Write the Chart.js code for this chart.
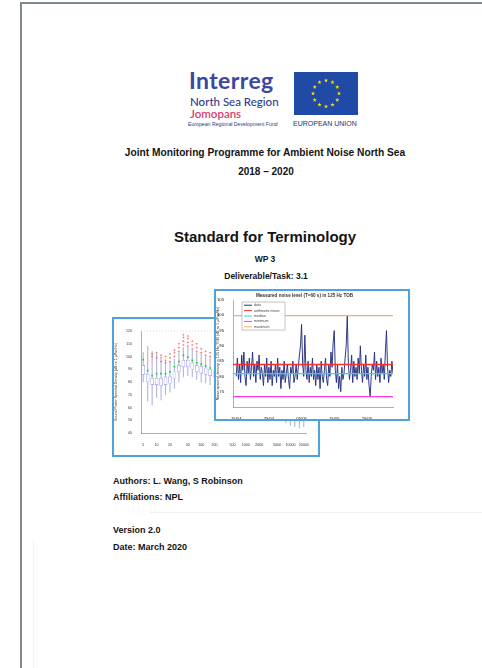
<!DOCTYPE html>
<html>
<head>
<meta charset="utf-8">
<script src="https://cdn.jsdelivr.net/npm/chart.js@4.4.1/dist/chart.umd.min.js"></script>
<style>
html, body { margin: 0; padding: 0; background: #fff; }
body { width: 482px; height: 668px; position: relative; overflow: hidden; font-family: "Liberation Sans", Arial, sans-serif; color: #141414; }
.abs { position: absolute; white-space: nowrap; line-height: 1; }
.mid { transform: translateX(-50%); }
.b { font-weight: bold; }
#frame { position: absolute; left: 20px; top: 2px; width: 520px; height: 700px; border-top: 2px solid #808891; border-left: 2px solid #808891; }
.box { position: absolute; box-sizing: border-box; border: 2px solid #4ea3dc; background: #fff; }
.box > div { position: relative; width: 100%; height: 100%; }
</style>
</head>
<body>
<div id="frame"></div>
<div class="abs" style="left:33px;top:540px;width:1px;height:130px;background:#f1f3f5"></div>
<div class="abs" style="left:150px;top:512px;width:340px;height:1px;background:#eef0f2"></div>

<!-- logo block -->
<div class="abs" style="left:189px;top:66px;font:700 23px Lato, sans-serif;color:#3d47a0;letter-spacing:0.4px">Interreg</div>
<div class="abs" style="left:190px;top:95px;font:500 11.5px Lato, sans-serif;color:#2c3b8a">North Sea Region</div>
<div class="abs" style="left:190px;top:107px;font:600 11.5px Lato, sans-serif;color:#d8406d">Jomopans</div>
<div class="abs" style="left:188px;top:121px;font:400 5.2px 'Liberation Sans', sans-serif;color:#2c3b8a">European Regional Development Fund</div>
<svg class="abs" id="flag" style="left:294px;top:72px" width="64" height="43"></svg>
<div class="abs" style="left:293px;top:120px;font:400 7px 'Liberation Sans', sans-serif;color:#1f2f70">EUROPEAN UNION</div>

<!-- titles -->
<div class="abs mid b" style="left:265px;top:148px;font-size:10.2px">Joint Monitoring Programme for Ambient Noise North Sea</div>
<div class="abs mid b" style="left:266px;top:167px;font-size:10px">2018 – 2020</div>
<div class="abs mid b" style="left:265px;top:228.5px;font-size:15px">Standard for Terminology</div>
<div class="abs mid b" style="left:265px;top:254.5px;font-size:8.5px">WP 3</div>
<div class="abs mid b" style="left:266px;top:271.5px;font-size:8.5px">Deliverable/Task: 3.1</div>

<!-- charts -->
<div class="box" style="left:112px;top:317px;width:208px;height:140px;z-index:1"><div><canvas id="boxChart"></canvas></div></div>
<div class="box" style="left:214px;top:289px;width:196px;height:132px;z-index:2"><div><canvas id="lineChart"></canvas></div></div>

<!-- footer text -->
<div class="abs b" style="left:113px;top:476.5px;font-size:9px">Authors: L. Wang, S Robinson</div>
<div class="abs b" style="left:113px;top:492.5px;font-size:9px">Affiliations: NPL</div>
<div class="abs b" style="left:113px;top:525.5px;font-size:9px">Version 2.0</div>
<div class="abs b" style="left:113px;top:542.5px;font-size:9px">Date: March 2020</div>

<script>
// time series (right chart), 3 samples per day starting 15/04
const dayTicks = ['15/04', '25/04', '05/05', '15/05', '25/05'];
const tickDays = [0, 10, 20, 30, 40];
const noiseLevel = [
  80, 86, 79, 84, 78, 87, 82, 88, 80, 77, 85, 81, 86, 79, 83, 88, 80, 84,
  78, 85, 82, 87, 79, 83, 81, 77, 84, 80, 86, 78, 83, 79, 85, 77, 82, 80,
  84, 78, 86, 80, 83, 76, 82, 79, 85, 78, 81, 84, 79, 76, 83, 81, 85, 78,
  80, 84, 79, 83, 87, 90, 97, 84, 80, 93.5, 82, 79, 85, 78, 83, 80, 86, 79,
  82, 77, 84, 79, 83, 76, 85, 80, 78, 82, 86, 79, 77, 84, 80, 88, 83, 91,
  95, 82, 78, 84, 76, 80, 75, 83, 79, 81, 86, 90, 100, 84, 79, 82, 87, 78,
  85, 80, 83, 79, 86, 81, 90, 82, 78, 84, 80, 87, 79, 83, 77, 73.5, 80, 84,
  82, 88, 79, 85, 80, 83, 78, 86, 81, 84, 79, 88, 95, 83, 78, 82, 80, 85,
  81
];
const meanLevel = 83.9;
const medianLevel = 80.9;
const minLevel = 73.4;
const maxLevel = 99.9;
const seriesNames = ['data', 'arithmetic mean', 'median', 'minimum', 'maximum'];
const seriesColors = ['#25307f', '#ff2e2e', '#1fd9ef', '#ff3cf5', '#f2ae6c'];

// box plot per 1/3 octave band (left chart)
const bands = ['5', '6.3', '8', '10', '12.5', '16', '20', '25', '31.5', '40', '50', '63', '80', '100',
  '125', '160', '200', '250', '315', '400', '500', '630', '800', '1000', '1250', '1600', '2000',
  '2500', '3150', '4000', '5000', '6300', '8000', '10000', '12500', '16000', '20000'];
const bandTicks = ['5', '10', '20', '50', '100', '200', '500', '1000', '2000', '5000', '10000', '20000'];
const bandMean = [97.5, 89, 85, 86.5, 86.5, 86.5, 88, 92, 96, 101, 99.5, 97, 95, 94, 92.5, 91, 89,
  88, 86, 86.5, 84, 83, 83.5, 81, 80, 80.5, 78, 77, 77.5, 75, 74, 74.5, 72, 71, 71.5, 69, 68];
const boxLow = [86, 80, 78, 78, 77, 78, 79, 83, 88, 92, 92, 90, 88, 87, 86, 85, 84,
  83, 81, 81, 79, 78, 78, 76, 75, 75, 73, 72, 72, 70, 69, 69, 67, 66, 66, 64, 63];
const boxHigh = [93, 86, 83, 83, 83, 84, 84, 88, 93, 97, 97, 95, 93, 92, 91, 90, 88,
  87, 85, 86, 83, 82, 83, 80, 79, 80, 77, 76, 77, 74, 73, 74, 71, 70, 71, 68, 67];
const whiskLow = [80, 65, 62, 68, 66, 70, 72, 75, 80, 84, 85, 84, 82, 80, 79, 78, 77,
  75, 73, 72, 69, 68, 66, 63, 62, 59, 58, 56, 54, 53, 51, 50, 48, 46, 45, 44, 45];
const whiskHigh = [103, 108, 104, 102, 98, 96, 96, 98, 103, 107, 107, 105, 103, 102, 100, 99, 98,
  97, 95, 95, 93, 92, 93, 90, 89, 89, 87, 86, 86, 84, 83, 83, 81, 80, 80, 78, 77];
const outliers = [[], [], [100, 102], [99, 103], [96, 99, 101], [95, 97, 100], [96, 99, 102],
  [100, 103, 105], [104, 107, 110], [109, 112, 115, 117], [108, 111, 114, 116], [106, 109, 112],
  [104, 107, 110], [103, 106], [101, 104], [100, 103], [99, 101]];

// flag stars (decoration)
const flag = document.getElementById('flag');
let svg = '<rect width="64" height="43" fill="#1f4aa6"/>';
for (let k = 0; k < 12; k++) {
  const a = k * Math.PI / 6;
  const cx = 32 + 13 * Math.cos(a), cy = 21.5 + 13 * Math.sin(a);
  let pts = [];
  for (let j = 0; j < 10; j++) {
    const r = j % 2 ? 0.9 : 2.2, t = -Math.PI / 2 + j * Math.PI / 5;
    pts.push((cx + r * Math.cos(t)).toFixed(2) + ',' + (cy + r * Math.sin(t)).toFixed(2));
  }
  svg += '<polygon fill="#ffdd00" points="' + pts.join(' ') + '"/>';
}
flag.innerHTML = svg;

// legend drawn inside plot area
const innerLegend = {
  id: 'innerLegend',
  afterDatasetsDraw(chart, args, opts) {
    const {ctx, chartArea} = chart;
    const x = chartArea.left + opts.dx, y = chartArea.top + opts.dy;
    ctx.save();
    ctx.fillStyle = '#fff';
    ctx.strokeStyle = '#8a8a8a';
    ctx.lineWidth = 0.5;
    ctx.fillRect(x, y, opts.w, opts.h);
    ctx.strokeRect(x, y, opts.w, opts.h);
    ctx.font = '3.6px "Liberation Sans"';
    ctx.textBaseline = 'middle';
    chart.data.datasets.forEach((ds, i) => {
      const ly = y + 3.2 + i * 5.4;
      ctx.strokeStyle = ds.borderColor;
      ctx.lineWidth = 1;
      ctx.beginPath(); ctx.moveTo(x + 2, ly); ctx.lineTo(x + 10, ly); ctx.stroke();
      ctx.fillStyle = '#444';
      ctx.fillText(ds.label, x + 12, ly);
    });
    ctx.restore();
  }
};

const plotFrame = {
  id: 'plotFrame',
  beforeDatasetsDraw(chart) {
    const {ctx, chartArea} = chart;
    ctx.save();
    ctx.strokeStyle = '#bbb';
    ctx.lineWidth = 0.5;
    ctx.setLineDash([1, 2]);
    ctx.beginPath(); ctx.moveTo(chartArea.left, chartArea.top); ctx.lineTo(chartArea.right, chartArea.top); ctx.stroke();
    ctx.restore();
  }
};

const tiny = {family: '"Liberation Sans"', size: 4.2};

function flat(v) {
  return [{x: -1, y: v}, {x: 48, y: v}];
}
const levels = [null, meanLevel, medianLevel, minLevel, maxLevel];

new Chart(document.getElementById('lineChart'), {
  type: 'line',
  data: {
    datasets: seriesNames.map((name, i) => ({
      label: name,
      data: i === 0 ? noiseLevel.map((v, k) => ({x: k / 3, y: v})) : flat(levels[i]),
      borderColor: seriesColors[i],
      borderWidth: i === 0 ? 0.95 : 1.3,
      pointRadius: 0,
      order: i === 0 ? 1 : 0
    }))
  },
  options: {
    animation: false,
    responsive: true,
    maintainAspectRatio: false,
    devicePixelRatio: 1,
    layout: {padding: {top: 0, right: 15, left: 0, bottom: 0}},
    plugins: {
      legend: {display: false},
      tooltip: {enabled: false},
      title: {display: true, text: 'Measured noise level (T=60 s) in 125 Hz TOB', font: {family: '"Liberation Sans"', size: 4.6}, color: '#333', padding: {top: 1.5, bottom: 2}},
      innerLegend: {dx: 9, dy: 2, w: 43, h: 28}
    },
    scales: {
      x: {
        type: 'linear', min: -1, max: 48,
        grid: {display: false},
        border: {color: '#777', width: 0.6},
        afterBuildTicks: s => { s.ticks = tickDays.map(v => ({value: v})); },
        ticks: {font: tiny, color: '#111', padding: 1, maxRotation: 0, callback: v => dayTicks[tickDays.indexOf(v)]},
        afterFit: s => { s.height = 12; }
      },
      y: {
        min: 70, max: 105,
        grid: {display: false},
        border: {color: '#777', width: 0.6},
        ticks: {stepSize: 5, font: tiny, color: '#111', padding: 1, callback: v => v === 70 ? '' : v},
        title: {display: true, text: 'Noise spectral density in 125 Hz TOB (dB re 1 µPa²/Hz)', font: {family: '"Liberation Sans"', size: 3.8}, color: '#333', padding: 0},
        afterFit: s => { s.width = 17; }
      }
    }
  },
  plugins: [innerLegend]
});

const outlierPoints = [];
outliers.forEach((list, i) => list.forEach(v => outlierPoints.push({x: bands[i], y: v})));

new Chart(document.getElementById('boxChart'), {
  type: 'bar',
  data: {
    labels: bands,
    datasets: [
      {type: 'line', label: 'outliers', data: outlierPoints, showLine: false, pointStyle: 'cross', pointRadius: 1, borderColor: '#f05a5a', borderWidth: 0.6, order: 0},
      {type: 'line', label: 'mean', data: bandMean, showLine: false, pointStyle: 'rect', pointRadius: 1.2, backgroundColor: '#1ed02a', borderWidth: 0, order: 1},
      {label: 'box', data: bands.map((b, i) => [boxLow[i], boxHigh[i]]), backgroundColor: '#fff', borderColor: '#9a9af2', borderWidth: 0.6, borderSkipped: false, barThickness: 3, grouped: false, order: 2},
      {label: 'whisker', data: bands.map((b, i) => [whiskLow[i], whiskHigh[i]]), backgroundColor: '#b4b7dc', barThickness: 0.5, grouped: false, order: 3}
    ]
  },
  options: {
    animation: false,
    responsive: true,
    maintainAspectRatio: false,
    devicePixelRatio: 1,
    layout: {padding: {top: 12, right: 12, left: 0, bottom: 0}},
    plugins: {legend: {display: false}, tooltip: {enabled: false}},
    scales: {
      x: {
        grid: {display: false},
        border: {color: '#777', width: 0.6},
        ticks: {font: {family: '"Liberation Sans"', size: 3.6}, color: '#333', padding: 2, autoSkip: false, maxRotation: 0,
          callback: (v, i) => bandTicks.includes(bands[i]) ? bands[i] : ''},
        afterFit: s => { s.height = 22; }
      },
      y: {
        min: 40, max: 120,
        grid: {display: false},
        border: {color: '#777', width: 0.6},
        ticks: {stepSize: 10, font: {family: '"Liberation Sans"', size: 3.6}, color: '#333', padding: 1},
        title: {display: true, text: 'Sound Power Spectral Density (dB re 1 µPa²/Hz)', font: {family: '"Liberation Sans"', size: 3.6}, color: '#333', padding: 0},
        afterFit: s => { s.width = 27; }
      }
    }
  },
  plugins: [plotFrame]
});
</script>
</body>
</html>
